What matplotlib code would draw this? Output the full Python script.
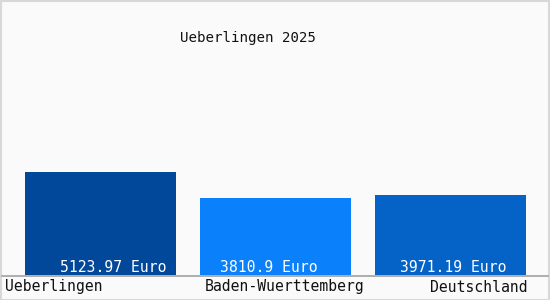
import matplotlib
matplotlib.use("Agg")
import matplotlib.pyplot as plt
from matplotlib.patches import Rectangle

title = "Ueberlingen 2025"
categories = ["Ueberlingen", "Baden-Wuerttemberg", "Deutschland"]
values = [5123.97, 3810.9, 3971.19]
value_labels = ["5123.97 Euro", "3810.9 Euro", "3971.19 Euro"]
colors = ["#02489a", "#0a80fa", "#0563c8"]

W, H = 550, 300
fig = plt.figure(figsize=(W / 100, H / 100), dpi=100, facecolor="#fafafa")

# axes: bottom at pixel 275, top at pixel 20
base_px, top_px = 275, 20
ax = fig.add_axes([0, (H - base_px) / H, 1, (base_px - top_px) / H])
ax.set_facecolor("#fafafa")
px_per_unit = 103 / values[0]
ax.set_ylim(0, (base_px - top_px) / px_per_unit)
# bar centers at 100.5 + 175*i pixels
ax.set_xlim(-100.5 / 175, (W - 100.5) / 175)
ax.bar(range(len(values)), values, width=151 / 175, color=colors)
for s in ax.spines.values():
    s.set_visible(False)
ax.set_xticks([])
ax.set_yticks([])

font = "DejaVu Sans Mono"
# bottom axis line
fig.add_artist(plt.Line2D([2 / W, 548 / W], [(H - 275.5) / H] * 2,
                          color="#a0a0a0", lw=1.2))
# title
fig.text(248 / W, (H - 38) / H, title, ha="center", va="center",
         fontsize=10.2, family=font, color="#111111")

# value labels inside bars
val_x = [113, 268.5, 453.5]
for x, t in zip(val_x, value_labels):
    fig.text(x / W, (H - 268) / H, t, ha="center", va="center",
             fontsize=10.6, family=font, color="white")

# category labels
cat_pos = [(5, "left"), (205, "left"), (528, "right")]
for (x, ha), t in zip(cat_pos, categories):
    fig.text(x / W, (H - 287) / H, t, ha=ha, va="center",
             fontsize=10.6, family=font, color="#111111")

# outer border
fig.add_artist(Rectangle((0.5 / W, 0.5 / H), (W - 1.5) / W, (H - 1.5) / H,
                         transform=fig.transFigure, fill=False,
                         edgecolor="#d8d8d8", lw=1.5))

fig.savefig("out.png", dpi=100, facecolor=fig.get_facecolor())
